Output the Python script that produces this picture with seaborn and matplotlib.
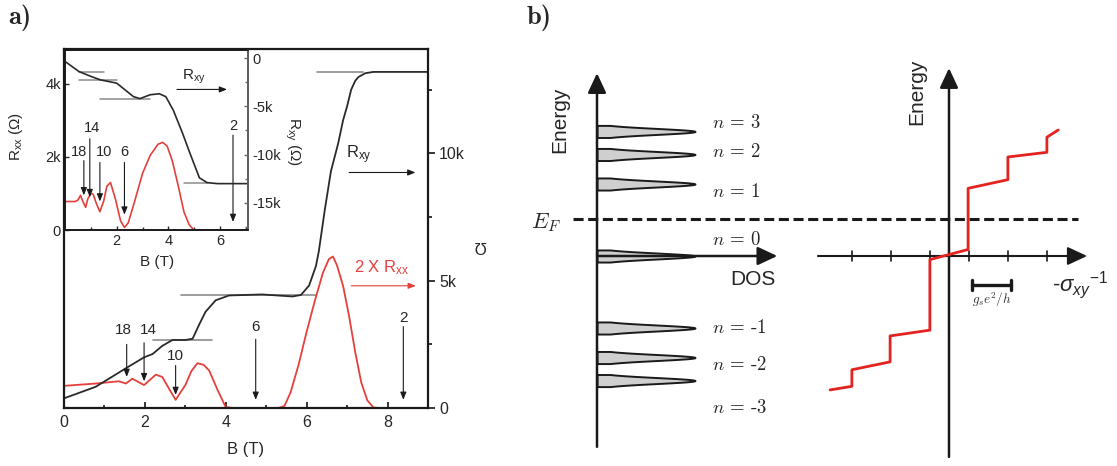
import numpy as np
import pandas as pd
import matplotlib
matplotlib.use("Agg")
import matplotlib.pyplot as plt
from matplotlib.ticker import FixedLocator, FuncFormatter
import seaborn as sns

# ------------------------------------------------------------------
# Panel a: magnetotransport of a graphene sample (values in kOhm)
# ------------------------------------------------------------------
b_hall = [0.0, 0.78, 1.53, 1.98, 2.19, 2.43, 2.68, 3.0, 3.18, 3.34, 3.5, 3.75,
          4.08, 4.9, 5.65, 5.86, 6.06, 6.23, 6.3, 6.45, 6.6, 6.78, 6.9, 7.0,
          7.1, 7.2, 7.28, 7.45, 7.65, 9.0]
r_hall = [0.38, 0.83, 1.56, 1.99, 2.12, 2.44, 2.67, 2.67, 2.72, 3.27, 3.78, 4.23,
          4.42, 4.46, 4.38, 4.44, 4.81, 5.58, 6.15, 7.8, 9.3, 10.4, 11.3, 11.85,
          12.5, 12.85, 13.0, 13.15, 13.2, 13.2]

b_long = [0.0, 0.78, 1.36, 1.53, 1.69, 1.98, 2.27, 2.43, 2.6, 2.76, 3.0, 3.15,
          3.3, 3.45, 3.59, 3.8, 4.0, 4.2, 5.3, 5.45, 5.6, 5.8, 6.0, 6.2, 6.4,
          6.55, 6.65, 6.75, 6.9, 7.05, 7.2, 7.35, 7.5, 7.65, 7.8, 9.0]
r_long_x2 = [0.87, 0.96, 1.05, 0.96, 1.15, 0.9, 1.31, 1.22, 0.75, 0.32, 0.9, 1.45,
             1.76, 1.7, 1.47, 0.7, 0.03, 0.0, 0.0, 0.08, 0.6, 1.7, 3.0, 4.2, 5.3,
             5.85, 5.95, 5.6, 4.8, 3.6, 2.2, 1.0, 0.3, 0.02, 0.0, 0.0]

# quantised Hall plateaus (start B, end B, level)
plateau_start = [6.26, 2.89, 2.19]
plateau_end = [7.4, 6.23, 3.65]
plateau_level = [13.2, 4.45, 2.67]

# filling factors marked on the longitudinal trace
nu_labels = ["18", "14", "10", "6", "2"]
nu_b = [1.55, 1.98, 2.76, 4.74, 8.39]
nu_text_x = [1.47, 2.08, 2.76, 4.74, 8.39]
nu_text_y = [3.08, 3.08, 2.05, 3.2, 3.53]
nu_from_y = [2.5, 2.56, 1.67, 2.7, 3.2]
nu_tip_y = [1.22, 1.05, 0.51, 0.32, 0.32]

# ------------------------------------------------------------------
# Inset: second sample
# ------------------------------------------------------------------
b_in_long = [0.0, 0.4, 0.5, 0.6, 0.68, 0.8, 0.88, 1.0, 1.09, 1.2, 1.35, 1.5,
             1.62, 1.76, 1.95, 2.15, 2.3, 2.45, 2.7, 3.0, 3.3, 3.6, 3.78, 3.95,
             4.15, 4.4, 4.6, 4.8, 4.96, 5.1, 7.1]
r_in_long = [0.78, 0.78, 0.82, 0.95, 0.8, 0.62, 0.85, 1.0, 0.98, 0.75, 0.5, 0.8,
             1.2, 1.3, 0.85, 0.25, 0.07, 0.2, 0.8, 1.55, 2.05, 2.35, 2.4, 2.3,
             1.9, 1.15, 0.5, 0.15, 0.02, 0.0, 0.0]

b_in_hall = [0.0, 0.54, 1.0, 1.37, 2.0, 2.65, 2.9, 3.3, 3.65, 3.9, 4.19, 4.55,
             4.84, 5.2, 5.5, 5.9, 7.1]
r_in_hall = [-0.35, -1.4, -1.9, -2.26, -2.6, -4.0, -4.2, -3.8, -3.7, -4.0, -5.4,
             -7.8, -9.9, -12.4, -12.9, -13.0, -13.0]

in_plateau_start = [0.54, 0.54, 1.37, 4.6]
in_plateau_end = [1.5, 2.0, 3.3, 5.5]
in_plateau_level = [-1.4, -2.26, -4.25, -12.9]

in_nu_b = [0.73, 0.96, 1.35, 2.3, 6.5]
in_nu_text_x = [0.54, 1.05, 1.5, 2.3, 6.5]
in_nu_text_y = [2.14, 2.8, 2.14, 2.14, 2.86]
in_nu_from_y = [1.9, 2.5, 1.85, 1.85, 2.6]
in_nu_tip_y = [0.95, 0.9, 0.78, 0.42, 0.22]

# ------------------------------------------------------------------
# Panel b: Landau levels and Hall staircase (schematic)
# ------------------------------------------------------------------
level_index = [3, 2, 1, 0, -1, -2, -3]
level_energy = [1.73, 1.41, 1.0, 0.0, -1.0, -1.41, -1.73]
level_label_energy = [1.85, 1.44, 0.89, 0.22, -1.0, -1.51, -2.11]
fermi_energy = 0.51

stair_x = [-3.05, -2.49, -2.49, -1.51, -1.51, -0.49, -0.49, 0.49, 0.49, 1.51,
           1.51, 2.51, 2.51, 2.8]
stair_e = [-1.86, -1.81, -1.58, -1.47, -1.11, -1.03, -0.05, 0.09, 0.94, 1.06,
           1.375, 1.44, 1.65, 1.75]
stair_ticks = [-2.5, -1.5, -0.5, 0.5, 1.5, 2.5]

# ------------------------------------------------------------------
sns.set_theme(style="ticks")
plt.rcParams["font.family"] = ["Liberation Sans", "DejaVu Sans"]
plt.rcParams["mathtext.fontset"] = "custom"
plt.rcParams["mathtext.rm"] = "Liberation Sans"
plt.rcParams["mathtext.it"] = "Liberation Sans:italic"
plt.rcParams["mathtext.bf"] = "Liberation Sans:bold"

W, H = 1117, 466
fig = plt.figure(figsize=(W / 100, H / 100), dpi=100)
fig.patch.set_facecolor("white")


def px_rect(x0, y0, x1, y1):
    return [x0 / W, 1 - y1 / H, (x1 - x0) / W, (y1 - y0) / H]


RED = "#e5403b"
INK = "#2a2a2a"
GUIDE = "#8c8c8c"


def kfmt(v, _):
    return "0" if abs(v) < 1e-9 else f"{v:g}k"


arrow_kw = dict(arrowstyle="-|>,head_length=0.5,head_width=0.2", lw=0.8,
                color="k", mutation_scale=9, shrinkA=0, shrinkB=0)

# ---------------- main axes ----------------
ax = fig.add_axes(px_rect(64, 49, 428, 408), label="main")
ax.set_xlim(0, 9)
ax.set_ylim(0, 14.1)

sns.lineplot(x=b_long, y=r_long_x2, ax=ax, color=RED, lw=1.3,
             estimator=None, sort=False)
sns.lineplot(x=b_hall, y=r_hall, ax=ax, color=INK, lw=1.3,
             estimator=None, sort=False)
for s, e, lv in zip(plateau_start, plateau_end, plateau_level):
    ax.plot([s, e], [lv, lv], color=GUIDE, lw=1.2, zorder=1)

for lab, b, tx, ty, fy, tip in zip(nu_labels, nu_b, nu_text_x, nu_text_y,
                                   nu_from_y, nu_tip_y):
    ax.text(tx, ty, lab, ha="center", va="center", fontsize=11)
    ax.annotate("", xy=(b, tip), xytext=(b, fy), arrowprops=arrow_kw)

ax.text(7.3, 9.95, r"R$_{\mathregular{xy}}$", ha="center", va="center", fontsize=12)
ax.annotate("", xy=(8.69, 9.25), xytext=(7.05, 9.25), arrowprops=arrow_kw)
ax.text(7.85, 5.5, r"2 X R$_{\mathregular{xx}}$", ha="center", va="center",
        fontsize=12, color=RED)
ax.annotate("", xy=(8.7, 4.8), xytext=(7.1, 4.8),
            arrowprops=dict(arrow_kw, color=RED))

for side in ["left", "right", "top", "bottom"]:
    ax.spines[side].set_visible(True)
    ax.spines[side].set_color("k")
    ax.spines[side].set_linewidth(1.6)
ax.yaxis.tick_right()
ax.yaxis.set_major_locator(FixedLocator([0, 5, 10]))
ax.yaxis.set_minor_locator(FixedLocator([2.5, 7.5, 12.5]))
ax.yaxis.set_major_formatter(FuncFormatter(kfmt))
ax.xaxis.set_major_locator(FixedLocator([0, 2, 4, 6, 8]))
ax.xaxis.set_minor_locator(FixedLocator([1, 3, 5, 7]))
ax.tick_params(axis="y", which="both", left=False, right=True, direction="out",
               labelsize=11.5, width=1.3, pad=3)
ax.tick_params(axis="y", which="major", length=5)
ax.tick_params(axis="y", which="minor", length=3)
ax.tick_params(axis="x", which="both", direction="in", top=False,
               labelsize=11.5, width=1.3, pad=5)
ax.tick_params(axis="x", which="major", length=4)
ax.tick_params(axis="x", which="minor", length=2.5)
ax.set_xlabel("B (T)", fontsize=12)
ax.xaxis.set_label_coords(0.5, -0.095)
ax.set_ylabel("")
ax.text(1.143, 0.454, "Ω", transform=ax.transAxes, rotation=180,
        ha="center", va="center", fontsize=12)

# ---------------- inset ----------------
ax_in = fig.add_axes(px_rect(65, 50, 248, 230), label="inset")
ax_in.set_zorder(3)
ax_in.set_facecolor("white")
ax_in.set_xlim(0, 7.08)
ax_in.set_ylim(0, 4.93)
sns.lineplot(x=b_in_long, y=r_in_long, ax=ax_in, color=RED, lw=1.2,
             estimator=None, sort=False)

ax_in2 = ax_in.twinx()
ax_in2.set_zorder(4)
ax_in2.patch.set_visible(False)
ax_in2.set_ylim(-17.8, 0.83)
sns.lineplot(x=b_in_hall, y=r_in_hall, ax=ax_in2, color=INK, lw=1.2,
             estimator=None, sort=False)
for s, e, lv in zip(in_plateau_start, in_plateau_end, in_plateau_level):
    ax_in2.plot([s, e], [lv, lv], color=GUIDE, lw=1.1, zorder=1)

for lab, b, tx, ty, fy, tip in zip(nu_labels, in_nu_b, in_nu_text_x,
                                   in_nu_text_y, in_nu_from_y, in_nu_tip_y):
    ax_in.text(tx, ty, lab, ha="center", va="center", fontsize=10.5)
    ax_in.annotate("", xy=(b, tip), xytext=(b, fy), arrowprops=arrow_kw)
ax_in.text(5.0, 4.2, r"R$_{\mathregular{xy}}$", ha="center", va="center", fontsize=11)
ax_in.annotate("", xy=(6.27, 3.85), xytext=(4.33, 3.85), arrowprops=arrow_kw)

for a in (ax_in, ax_in2):
    for side in ["left", "right", "top", "bottom"]:
        a.spines[side].set_visible(True)
        a.spines[side].set_color("k")
        a.spines[side].set_linewidth(1.2)
ax_in2.spines["right"].set_color("#666666")
ax_in.yaxis.set_major_locator(FixedLocator([0, 2, 4]))
ax_in.yaxis.set_major_formatter(FuncFormatter(kfmt))
ax_in.xaxis.set_major_locator(FixedLocator([2, 4, 6]))
ax_in.xaxis.set_minor_locator(FixedLocator([1, 3, 5, 7]))
ax_in.tick_params(axis="both", which="both", direction="in", labelsize=10.5,
                  width=1.0, pad=3)
ax_in.tick_params(axis="both", which="major", length=3)
ax_in.tick_params(axis="both", which="minor", length=2)
ax_in2.yaxis.set_major_locator(FixedLocator([0, -5, -10, -15]))
ax_in2.yaxis.set_minor_locator(FixedLocator([-2.5, -7.5, -12.5, -17.5]))
ax_in2.yaxis.set_major_formatter(FuncFormatter(kfmt))
ax_in2.tick_params(axis="y", which="both", direction="in", labelsize=10.5,
                   width=1.0, pad=3, color="#666666")
ax_in2.tick_params(axis="y", which="major", length=3)
ax_in2.tick_params(axis="y", which="minor", length=2)

ax_in.set_xlabel("B (T)", fontsize=11)
ax_in.xaxis.set_label_coords(0.503, -0.14)
ax_in.set_ylabel(r"R$_{\mathregular{xx}}$ (Ω)", fontsize=11)
ax_in.yaxis.set_label_coords(-0.22, 0.517)
ax_in2.set_ylabel(r"R$_{\mathregular{xy}}$ (Ω)", fontsize=11, rotation=270,
                  va="center")
ax_in2.yaxis.set_label_coords(1.246, 0.49)

# ---------------- panel b ----------------
b_rect = px_rect(520, 0, 1117, 466)
e_lim = (-210 / 72, 256 / 72)

ax_dos = fig.add_axes(b_rect, label="dos")
ax_dos.set_axis_off()
ax_dos.set_xlim(-77 / 98, 520 / 98)
ax_dos.set_ylim(*e_lim)

big_arrow = dict(arrowstyle="-|>,head_length=0.6,head_width=0.28", lw=1.8,
                 color="k", mutation_scale=20, shrinkA=0, shrinkB=0)

sigma_w = 0.042
for n, en in zip(level_index, level_energy):
    e = np.linspace(en - 2 * sigma_w, en + 2 * sigma_w, 81)
    dos = np.exp(-0.5 * ((e - en) / sigma_w) ** 2)
    ax_dos.fill_betweenx(e, 0, dos, facecolor="#cfcfcf", edgecolor="k", lw=1.4,
                         zorder=2)

ax_dos.annotate("", xy=(0, 2.54), xytext=(0, -2.65), arrowprops=big_arrow)
ax_dos.annotate("", xy=(1.84, 0), xytext=(0, 0), arrowprops=big_arrow)
ax_dos.text(-0.38, 1.89, "Energy", rotation=90, ha="center", va="center",
            fontsize=15)
ax_dos.text(1.59, -0.33, "DOS", ha="center", va="center", fontsize=15)

for n, ly in zip(level_index, level_label_energy):
    ax_dos.text(1.17, ly, f"$n$ = {n}", ha="left", va="center", fontsize=13.5,
                fontfamily="cmr10", math_fontfamily="cm")

ax_dos.plot([-0.245, 4.91], [fermi_energy, fermi_energy], color="k", lw=2.2,
            ls=(0, (3.3, 1.5)), clip_on=False, zorder=1)
ax_dos.text(-0.52, fermi_energy - 0.04, "$E_F$", ha="center", va="center",
            fontsize=16, math_fontfamily="cm")

ax_sig = fig.add_axes(b_rect, label="sigma")
ax_sig.set_axis_off()
ax_sig.set_xlim(-429 / 39, 168 / 39)
ax_sig.set_ylim(*e_lim)

ax_sig.annotate("", xy=(3.54, 0), xytext=(-3.36, 0),
                arrowprops=dict(big_arrow, lw=1.5))
ax_sig.annotate("", xy=(0, 2.61), xytext=(0, -2.79), arrowprops=big_arrow)
for t in stair_ticks:
    ax_sig.plot([t, t], [-0.07, 0.07], color="k", lw=1.2)

sns.lineplot(x=stair_x, y=stair_e, ax=ax_sig, color="#e3231f", lw=2.0,
             estimator=None, sort=False, zorder=3)

ax_sig.text(-0.82, 2.28, "Energy", rotation=90, ha="center", va="center",
            fontsize=15)
ax_sig.text(3.36, -0.4, r"-$\sigma_{xy}$$^{\mathregular{-1}}$", ha="center",
            va="center", fontsize=16)

bar_y = -0.40
ax_sig.plot([0.6, 1.6], [bar_y, bar_y], color="k", lw=2.4)
for bx in (0.6, 1.6):
    ax_sig.plot([bx, bx], [bar_y - 0.07, bar_y + 0.07], color="k", lw=2.4)
ax_sig.text(1.1, -0.61, r"$g_s e^2/h$", ha="center", va="center", fontsize=9.5,
            color="#333333", math_fontfamily="cm")

# panel letters
fig.text(8 / W, 1 - 18 / H, "a)", fontsize=19, fontfamily="cmb10",
         ha="left", va="center")
fig.text(527 / W, 1 - 18 / H, "b)", fontsize=19, fontfamily="cmb10",
         ha="left", va="center")

fig.savefig("out.png", dpi=100, facecolor="white")
